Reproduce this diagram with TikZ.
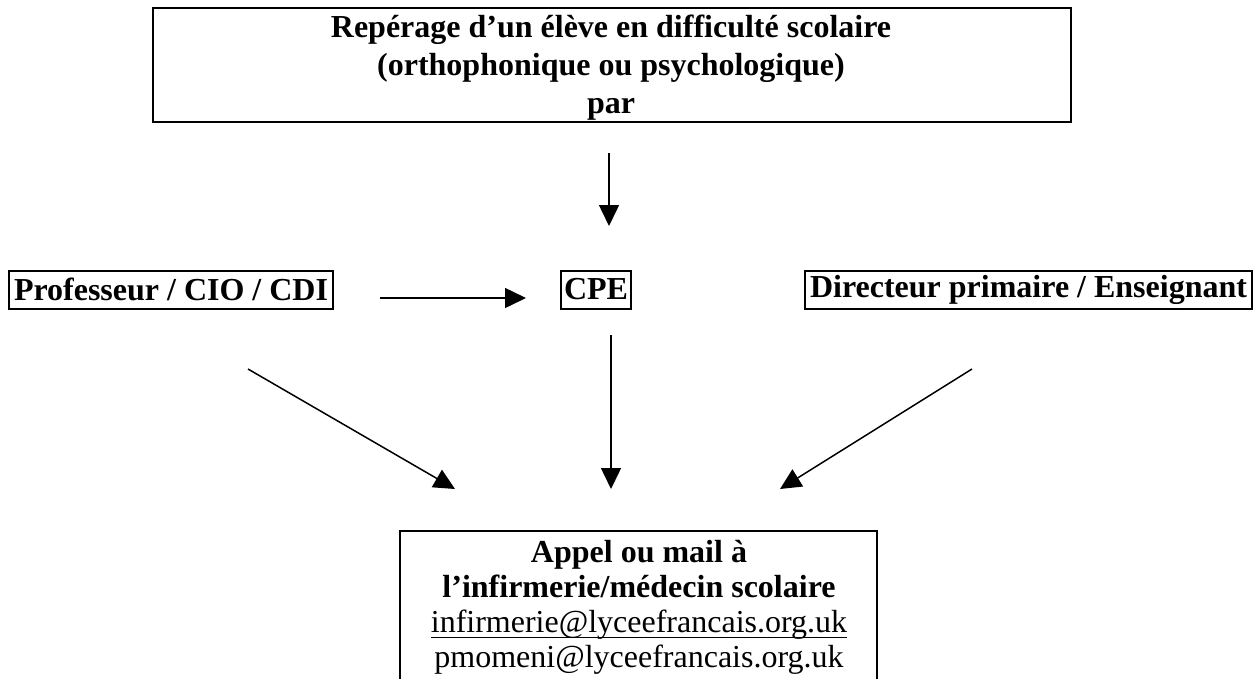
\documentclass[tikz,border=0pt]{standalone}
\usepackage{fontspec}
\setmainfont{Liberation Serif}
\usetikzlibrary{arrows.meta}
\newcommand\mailul[1]{\underline{\smash{#1}\rule[-3.5pt]{0pt}{3.5pt}}}
\tikzset{
  box/.style={draw, line width=2pt, inner sep=0pt, font=\fontsize{32}{38}\selectfont\bfseries, align=center},
  conn/.style={line width=1.5pt, -{Triangle[length=21pt,width=20pt]}},
}
\begin{document}
\begin{tikzpicture}[x=1pt,y=-1pt]
\useasboundingbox (0,0) rectangle (1258,678);
\clip (0,0) rectangle (1258,678);
% top box
\node[box, minimum width=918pt, minimum height=114pt, anchor=north west] (top) at (152,7) {};
\node[font=\fontsize{32}{38}\selectfont\bfseries, align=center, anchor=base, inner sep=0pt] (toptxt) at (611,113)
  {Repérage d’un élève en difficulté scolaire\\ (orthophonique ou psychologique)\\ par};
% middle row
\node[box, minimum height=38pt, inner xsep=5pt, anchor=west] (prof) at (8,289.5) {Professeur / CIO / CDI};
\node[box, minimum height=38pt, inner xsep=3pt, anchor=west] (cpe) at (560,289.5) {CPE};
\node[box, minimum height=38pt, inner xsep=5pt, anchor=east] (dir) at (1253,289.5) {Directeur primaire / Enseignant};
% bottom box
\draw[line width=2pt] (400,700) -- (400,531) -- (877,531) -- (877,700);
\node[inner sep=0pt, align=center, font=\fontsize{32}{35}\selectfont, anchor=base] (mail) at (639,667)
  {\textbf{Appel ou mail à}\\ \textbf{l’infirmerie/médecin scolaire}\\
   \mailul{infirmerie@lyceefrancais.org.uk}\\ pmomeni@lyceefrancais.org.uk};
% arrows
\coordinate (a1s) at (609,153); \coordinate (a1e) at (609,226);
\coordinate (a2s) at (380,298); \coordinate (a2e) at (526,298);
\coordinate (a3s) at (248,369); \coordinate (a3e) at (455,489);
\coordinate (a4s) at (611,335); \coordinate (a4e) at (611,489);
\coordinate (a5s) at (972,369); \coordinate (a5e) at (780,489);
\draw[conn] (a1s) -- (a1e);
\draw[conn] (a2s) -- (a2e);
\draw[conn] (a3s) -- (a3e);
\draw[conn] (a4s) -- (a4e);
\draw[conn] (a5s) -- (a5e);
\end{tikzpicture}
\end{document}
